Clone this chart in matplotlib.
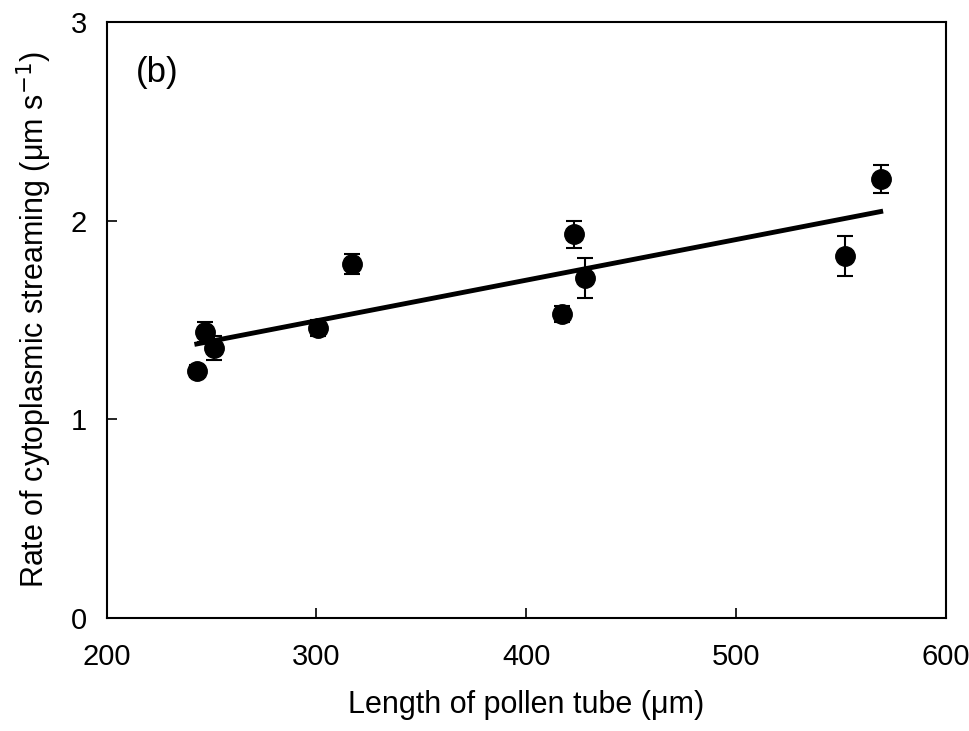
import numpy as np
import matplotlib
matplotlib.use("Agg")
import matplotlib.pyplot as plt

plt.rcParams['font.family'] = ['Liberation Sans', 'DejaVu Sans']

# pollen tube length (um) vs streaming rate (um/s)
length = [243, 247, 251, 301, 317, 417, 423, 428, 552, 569]
rate = [1.24, 1.44, 1.36, 1.46, 1.78, 1.53, 1.93, 1.71, 1.82, 2.21]
err = [0.03, 0.05, 0.06, 0.04, 0.05, 0.04, 0.07, 0.10, 0.10, 0.07]

fig = plt.figure(figsize=(9.69, 7.31), dpi=100)
ax = fig.add_axes([0.110, 0.155, 0.866, 0.815])

ax.errorbar(length, rate, yerr=err, fmt="o", color="black", ms=14,
            capsize=6, elinewidth=1.5, capthick=1.5)

# linear regression
k, b = np.polyfit(length, rate, 1)
xs = np.array([min(length), max(length)])
ax.plot(xs, k * xs + b, color="black", lw=3.5)

ax.set_xlim(200, 600)
ax.set_ylim(0, 3)
ax.set_xticks([200, 300, 400, 500, 600])
ax.set_yticks([0, 1, 2, 3])
ax.tick_params(direction="in", length=7, width=1.2, labelsize=21)
ax.tick_params(axis="x", pad=18)
ax.tick_params(axis="y", pad=14)
for s in ax.spines.values():
    s.set_linewidth(1.5)

ax.set_xlabel("Length of pollen tube (\u03bcm)", fontsize=22, labelpad=14)
ax.set_ylabel("Rate of cytoplasmic streaming (\u03bcm s$^{-1}$)", fontsize=22, labelpad=12)
ax.text(0.035, 0.9, "(b)", transform=ax.transAxes, fontsize=25)

fig.savefig("out.png", dpi=100)
